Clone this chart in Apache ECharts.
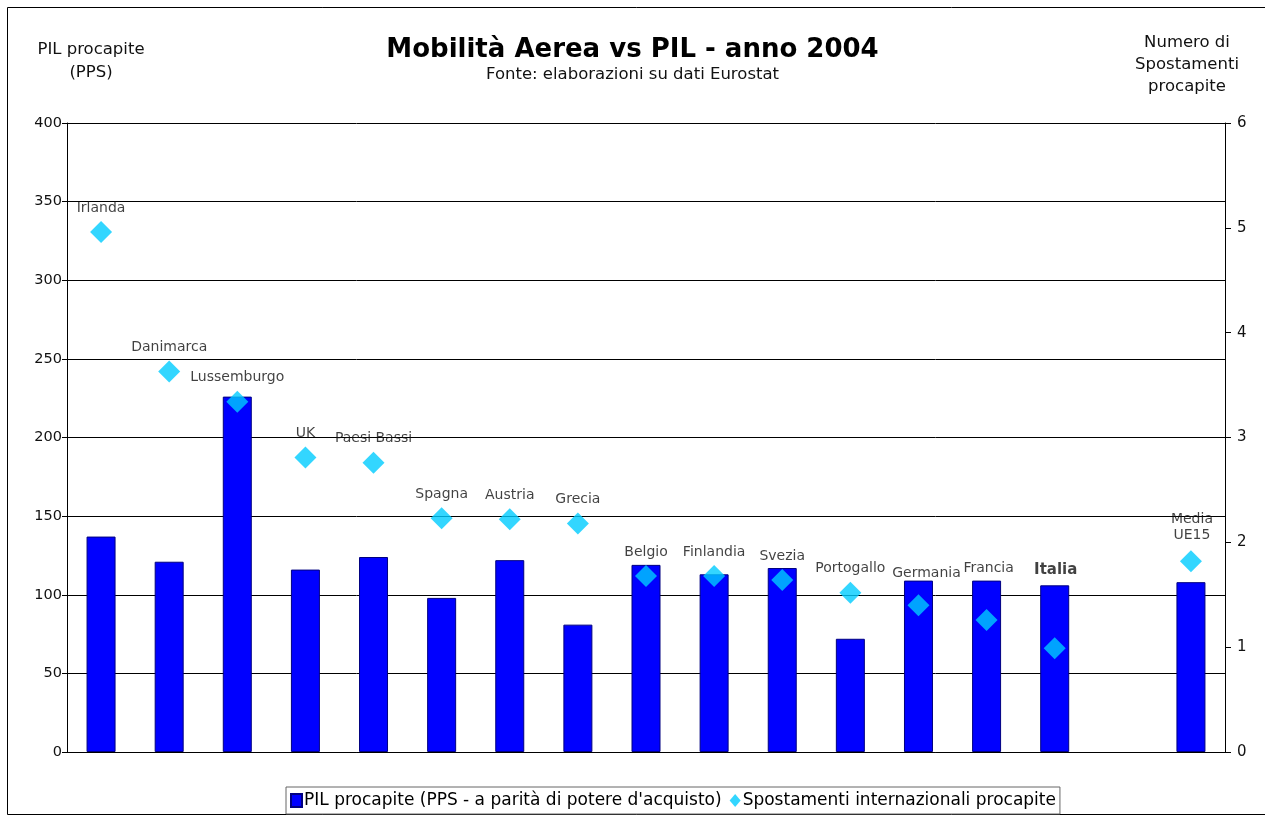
<!DOCTYPE html>
<html lang="it">
<head>
    <meta charset="UTF-8">
    <title>Mobilità Aerea vs PIL - anno 2004</title>
    <script src="https://cdn.jsdelivr.net/npm/echarts@6/dist/echarts.min.js"></script>
    <style type="text/css">
        *{ margin: 0; padding: 0; }
        body{ background: #fff; }
        #chart{ width: 1265px; height: 817px; }
    </style>
</head>
<body>
<div id="chart"></div>
<script>
    // paesi (la colonna vuota separa la media UE15)
    var paesi = ['Irlanda', 'Danimarca', 'Lussemburgo', 'UK', 'Paesi Bassi', 'Spagna', 'Austria', 'Grecia',
        'Belgio', 'Finlandia', 'Svezia', 'Portogallo', 'Germania', 'Francia', 'Italia', '', 'Media\nUE15'];
    // PIL procapite (PPS)
    var pil = [137, 121, 226, 116, 124, 98, 122, 81, 119, 113, 117, 72, 109, 109, 106, null, 108];
    // spostamenti internazionali procapite
    var spostamenti = [4.96, 3.63, 3.34, 2.81, 2.76, 2.23, 2.22, 2.18, 1.68, 1.68, 1.64, 1.52, 1.40, 1.26, 0.99, null, 1.82];
    var tickPil = [0, 50, 100, 150, 200, 250, 300, 350, 400];
    var tickSpost = [0, 1, 2, 3, 4, 5, 6];

    var font = 'DejaVu Sans';

    // spostamenti delle etichette come nel grafico originale
    var spostaEtichetta = {
        'Germania': [8, -8],
        'Francia': [2, -28],
        'Italia': [1, -54],
        'Media\nUE15': [1, -2]
    };

    var puntiScatter = [];
    for (var i = 0; i < paesi.length; i++) {
        var p = { value: spostamenti[i] };
        var lab = { offset: spostaEtichetta[paesi[i]] || [0, 0] };
        if (paesi[i] === 'Italia') {
            lab.fontWeight = 'bold';
            lab.fontSize = 15;
        }
        p.label = lab;
        puntiScatter.push(p);
    }

    var myChart = echarts.init(document.getElementById('chart'));
    var option = {
        animation: false,
        textStyle: { fontFamily: font },
        title: [
            {
                text: 'Mobilità Aerea vs PIL - anno 2004',
                subtext: 'Fonte: elaborazioni su dati Eurostat',
                left: 'center',
                top: 32,
                itemGap: 3,
                textStyle: { fontFamily: font, fontSize: 26, fontWeight: 'bold', color: '#000' },
                subtextStyle: { fontFamily: font, fontSize: 16.5, color: '#111' }
            },
            {
                text: 'PIL procapite\n(PPS)',
                left: 86,
                top: 33,
                textAlign: 'center',
                textStyle: { fontFamily: font, fontSize: 16.5, fontWeight: 'normal', color: '#111', lineHeight: 23, align: 'center' }
            },
            {
                text: 'Numero di\nSpostamenti\nprocapite',
                left: 1182,
                top: 27,
                textAlign: 'center',
                textStyle: { fontFamily: font, fontSize: 16.5, fontWeight: 'normal', color: '#111', lineHeight: 22, align: 'center' }
            }
        ],
        graphic: [{
            type: 'rect',
            shape: { x: 7.5, y: 7.5, width: 1270, height: 807 },
            style: { fill: 'none', stroke: '#000', lineWidth: 1 },
            silent: true,
            z: -1
        }],
        legend: {
            left: 286,
            top: 787,
            padding: [5, 4, 5, 4],
            itemGap: 8,
            itemWidth: 11,
            itemHeight: 13,
            borderColor: '#666',
            borderWidth: 1,
            textStyle: { fontFamily: font, fontSize: 17, color: '#000', padding: [0, 0, 0, -3] },
            data: [
                { name: "PIL procapite (PPS - a parità di potere d'acquisto)", icon: 'rect' },
                { name: 'Spostamenti internazionali procapite', icon: 'diamond' }
            ]
        },
        grid: {
            left: 67,
            right: 40,
            top: 123,
            bottom: 65
        },
        xAxis: {
            type: 'category',
            data: paesi,
            axisLine: { show: true, lineStyle: { color: '#000', width: 1 } },
            axisTick: { show: false },
            axisLabel: { show: false }
        },
        yAxis: [
            {
                type: 'value',
                min: tickPil[0],
                max: tickPil[tickPil.length - 1],
                interval: 50,
                axisLine: { show: true, lineStyle: { color: '#000' } },
                axisTick: { show: true, length: 5, lineStyle: { color: '#000' } },
                axisLabel: { fontFamily: font, fontSize: 14.5, color: '#111', margin: 5 },
                splitLine: { show: true, lineStyle: { color: '#000', width: 1 } }
            },
            {
                type: 'value',
                position: 'right',
                min: tickSpost[0],
                max: tickSpost[tickSpost.length - 1],
                interval: 1,
                axisLine: { show: true, lineStyle: { color: '#000' } },
                axisTick: { show: true, length: 6, lineStyle: { color: '#000' } },
                axisLabel: { fontFamily: font, fontSize: 15, color: '#111', margin: 12 },
                splitLine: { show: false }
            }
        ],
        series: [
            {
                name: "PIL procapite (PPS - a parità di potere d'acquisto)",
                type: 'bar',
                yAxisIndex: 0,
                barWidth: 29,
                data: pil,
                itemStyle: { color: '#0000FF', borderColor: '#000080', borderWidth: 1 }
            },
            {
                name: 'Spostamenti internazionali procapite',
                type: 'scatter',
                yAxisIndex: 1,
                symbol: 'diamond',
                symbolSize: [22, 22],
                itemStyle: { color: '#00CCFF' },
                data: puntiScatter,
                label: {
                    show: true,
                    position: 'top',
                    distance: 5,
                    fontFamily: font,
                    fontSize: 14,
                    color: '#111',
                    lineHeight: 16,
                    align: 'center',
                    formatter: function (p) { return paesi[p.dataIndex]; }
                },
                z: 3
            }
        ]
    };
    myChart.setOption(option);
</script>
</body>
</html>
